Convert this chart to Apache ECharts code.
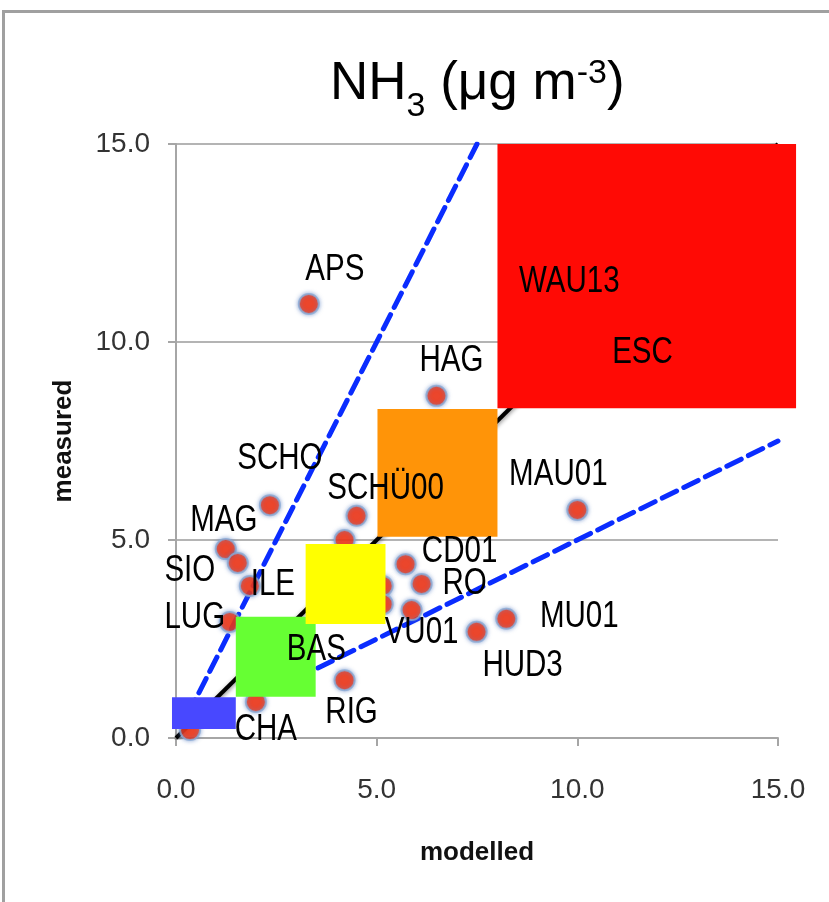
<!DOCTYPE html>
<html>
<head>
<meta charset="utf-8">
<script src="https://cdn.jsdelivr.net/npm/echarts@6/dist/echarts.min.js"></script>
<style>
  html, body { margin: 0; padding: 0; background: #fff; }
  #chart { width: 829px; height: 902px; }
</style>
</head>
<body>
<div id="chart"></div>
<script>
// Station comparison: modelled vs measured NH3 concentration (µg m-3)
const stations = ['', 'CHA', 'RIG', 'LUG', 'ILE', 'MAG', 'SIO', 'SCHO', 'SCHÜ00', 'APS', 'HAG', 'MAU01',
                  '', '', '', 'CD01', 'RO', 'VU01', 'HUD3', 'MU01', 'BAS', 'WAU13', 'ESC'];
const modelled = [0.35, 1.99, 4.20, 1.34, 1.84, 1.24, 1.54, 2.34, 4.50, 3.31, 6.49, 10.0,
                  4.20, 5.15, 5.15, 5.72, 6.12, 5.87, 7.49, 8.23, 2.6, 9.3, 11.2];
const measured = [0.20, 0.91, 1.46, 2.93, 3.84, 4.77, 4.42, 5.88, 5.61, 10.96, 8.64, 5.76,
                  5.00, 3.84, 3.38, 4.39, 3.89, 3.23, 2.68, 3.01, 2.3, 12.0, 9.0];

// Label placement relative to each marker (pixels)
const labelShift = {
  CHA: [10, 28], RIG: [7, 33], LUG: [-35, -4], ILE: [23, -1], MAG: [-2, -28], SIO: [-48, 8],
  SCHO: [10, -46], 'SCHÜ00': [29, -27], APS: [26, -34], HAG: [15, -35], MAU01: [-19, -35],
  CD01: [54, -12], RO: [43, 0], VU01: [10, 23], HUD3: [46, 34], MU01: [73, -2],
  BAS: [36, 3], WAU13: [20, 19], ESC: [17, -29]
};

// Concentration class boxes (modelled range x measured range)
const boxX0 = [-0.10, 1.49, 3.23, 5.02, 8.01];
const boxX1 = [1.49, 3.48, 5.22, 8.01, 15.45];
const boxY0 = [0.23, 1.04, 2.88, 5.08, 8.33];
const boxY1 = [1.03, 3.06, 4.90, 8.31, 15.0];
const boxColors = ['#4848ff', '#66ff33', '#ffff00', '#ff9408', '#ff0a05'];

// Reference lines: 1:1, factor 2 above, factor 2 below
const lineOneToOne = [[0, 0], [15, 15]];
const lineFactor2Up = [[0.3, 0.6], [7.5, 15]];
const lineFactor2Down = [[3.0, 1.5], [15, 7.5]];

const axisTicks = [0, 5, 10, 15];

const SANS = "'Liberation Sans', Arial, sans-serif";
const NARROW_SCALE = 0.82;   // condensed look for the station names

const chart = echarts.init(document.getElementById('chart'), null, { renderer: 'canvas' });

const points = modelled.map((x, i) => [x, measured[i]]);
const labelData = modelled.map((x, i) => [x, measured[i], i]);

const axisGray = '#a6a6a6';

chart.setOption({
  animation: false,
  backgroundColor: '#ffffff',
  graphic: [
    {
      type: 'rect',
      shape: { x: 3.5, y: 11.5, width: 1000, height: 1000 },
      style: { fill: 'none', stroke: '#a0a0a0', lineWidth: 3 },
      silent: true,
      z: -1
    },
    {
      type: 'text',
      x: 330, y: 52,
      silent: true, z: 10,
      style: {
        text: '{b|NH}{s|3}{b| (μg m}{p|-3}{b|)}',
        align: 'left', verticalAlign: 'top',
        rich: {
          b: { fontFamily: SANS, fontWeight: 'normal', fontSize: 53, lineHeight: 64, verticalAlign: 'middle', fill: '#000' },
          s: { fontFamily: SANS, fontWeight: 'normal', fontSize: 34, lineHeight: 20, verticalAlign: 'top', padding: [38, 0, 0, 0], fill: '#000' },
          p: { fontFamily: SANS, fontWeight: 'normal', fontSize: 34, lineHeight: 20, verticalAlign: 'top', padding: [5, 0, 0, 0], fill: '#000' }
        }
      }
    }
  ],
  grid: { left: 176, right: 51, top: 144, bottom: 164, containLabel: false },
  xAxis: {
    type: 'value', min: 0, max: 15, interval: 5,
    name: 'modelled', nameLocation: 'middle', nameGap: 102,
    nameTextStyle: { fontFamily: SANS, fontWeight: 'bold', fontSize: 26, color: '#111' },
    axisLine: { show: true, onZero: false, lineStyle: { color: axisGray, width: 2 } },
    axisTick: { show: true, length: 8, lineStyle: { color: axisGray, width: 2 } },
    splitLine: { show: false },
    axisLabel: {
      margin: 38, fontFamily: SANS, fontSize: 28, color: '#333',
      formatter: v => axisTicks.includes(v) ? v.toFixed(1) : ''
    }
  },
  yAxis: {
    type: 'value', min: 0, max: 15, interval: 5,
    name: 'measured', nameLocation: 'middle', nameGap: 99, nameRotate: 90, nameMoveOverlap: false,
    nameTextStyle: { fontFamily: SANS, fontWeight: 'bold', fontSize: 26, color: '#111' },
    axisLine: { show: true, onZero: false, lineStyle: { color: axisGray, width: 2 } },
    axisTick: { show: true, length: 8, lineStyle: { color: axisGray, width: 2 } },
    splitLine: { show: true, lineStyle: { color: '#b4b4b4', width: 2 } },
    axisLabel: {
      margin: 26, fontFamily: SANS, fontSize: 28, color: '#333',
      formatter: v => axisTicks.includes(v) ? v.toFixed(1) : ''
    }
  },
  series: [
    {
      type: 'line', data: lineOneToOne, symbol: 'none', z: 1, silent: true,
      lineStyle: { color: '#000', width: 4, shadowBlur: 4, shadowColor: 'rgba(0,0,0,0.45)', shadowOffsetY: 2 }
    },
    {
      type: 'line', data: lineFactor2Up, symbol: 'none', z: 1, silent: true,
      lineStyle: { color: '#0a2cff', width: 5, type: [16, 8], cap: 'round' }
    },
    {
      type: 'line', data: lineFactor2Down, symbol: 'none', z: 1, silent: true,
      lineStyle: { color: '#0a2cff', width: 5, type: [16, 8], cap: 'round' }
    },
    {
      type: 'scatter', data: points, z: 2, symbol: 'circle', symbolSize: 20,
      itemStyle: {
        color: '#ff2a00', borderColor: '#8aaad4', borderWidth: 2,
        shadowBlur: 4, shadowColor: 'rgba(80,120,190,0.7)'
      }
    },
    {
      type: 'custom', z: 3, clip: false, silent: true,
      encode: { x: [0, 1], y: [2, 3] },
      data: boxX0.map((x0, i) => [x0, boxX1[i], boxY0[i], boxY1[i]]),
      renderItem: (params, api) => {
        const tl = api.coord([api.value(0), api.value(3)]);
        const br = api.coord([api.value(1), api.value(2)]);
        return {
          type: 'rect',
          shape: { x: tl[0], y: tl[1], width: br[0] - tl[0], height: br[1] - tl[1] },
          style: { fill: boxColors[params.dataIndex] }
        };
      }
    },
    {
      // station names, drawn above the class boxes
      type: 'custom', z: 4, clip: false, silent: true,
      encode: { x: 0, y: 1 },
      data: labelData,
      renderItem: (params, api) => {
        const name = stations[api.value(2)];
        if (!name) return null;
        const c = api.coord([api.value(0), api.value(1)]);
        const d = labelShift[name] || [0, 0];
        return {
          type: 'text',
          x: c[0] + d[0], y: c[1] + d[1], scaleX: NARROW_SCALE,
          style: {
            text: name, fontFamily: SANS, fontSize: 36, fill: '#000',
            align: 'center', verticalAlign: 'middle'
          }
        };
      }
    }
  ]
});
</script>
</body>
</html>
